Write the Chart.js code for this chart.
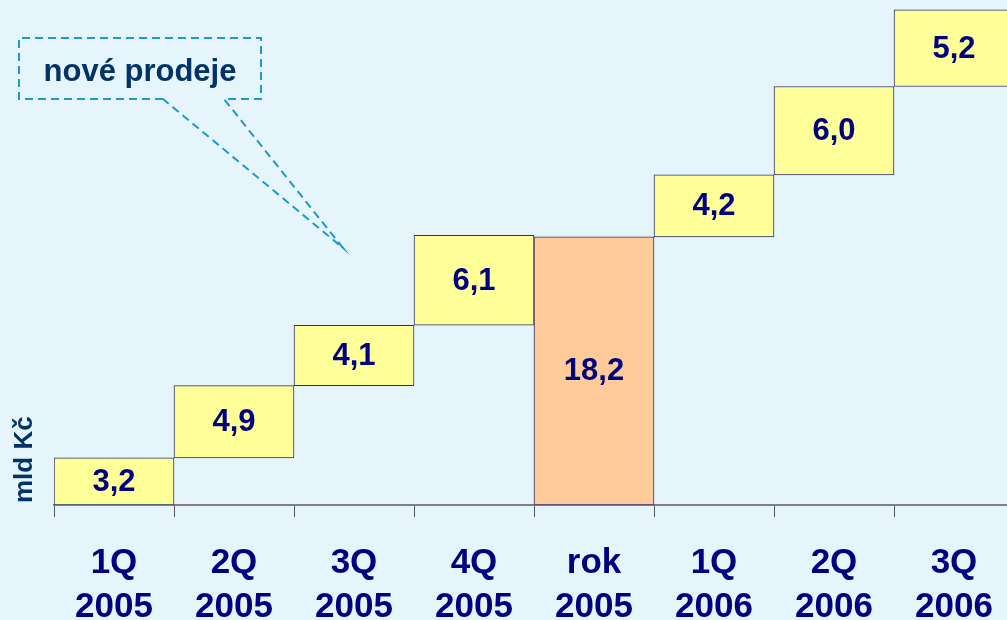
<!DOCTYPE html>
<html>
<head>
<meta charset="utf-8">
<script src="https://cdn.jsdelivr.net/npm/chart.js@4"></script>
<style>
  html, body { margin: 0; padding: 0; overflow: hidden; background: #E6F4FC; }
  #wrap { width: 1007px; height: 620px; overflow: hidden; }
</style>
</head>
<body>
<div id="wrap"><canvas id="sales" width="1020" height="620"></canvas></div>
<script>
// quarterly new sales (bn CZK) and the 2005 yearly total
const categories = [
  ['1Q', '2005'], ['2Q', '2005'], ['3Q', '2005'], ['4Q', '2005'],
  ['rok', '2005'], ['1Q', '2006'], ['2Q', '2006'], ['3Q', '2006']
];
const values = [3.2, 4.9, 4.1, 6.1, 18.2, 4.2, 6.0, 5.2];
const isTotal = [false, false, false, false, true, false, false, false];

// waterfall: each quarter starts where the previous one ended, the total starts at 0
const ranges = [];
let level = 0;
values.forEach((v, i) => {
  if (isTotal[i]) {
    ranges.push([0, v]);
    level = v;
  } else {
    ranges.push([level, level + v]);
    level += v;
  }
});

const navy = '#000080';

const valueLabels = {
  id: 'valueLabels',
  afterDatasetsDraw(chart) {
    const ctx = chart.ctx;
    const meta = chart.getDatasetMeta(0);
    ctx.save();
    ctx.font = 'bold 31px "Liberation Sans", Arial, sans-serif';
    ctx.fillStyle = navy;
    ctx.textAlign = 'center';
    ctx.textBaseline = 'middle';
    meta.data.forEach((bar, i) => {
      const y = (bar.y + bar.base) / 2;
      ctx.fillText(values[i].toFixed(1).replace('.', ','), bar.x, y + 1);
    });
    ctx.restore();
  }
};

const decorations = {
  id: 'decorations',
  afterDraw(chart) {
    const ctx = chart.ctx;
    ctx.save();
    // unit label
    ctx.translate(25, 503);
    ctx.rotate(-Math.PI / 2);
    ctx.font = 'bold 26px "Liberation Sans", Arial, sans-serif';
    ctx.fillStyle = '#003366';
    ctx.textAlign = 'left';
    ctx.textBaseline = 'middle';
    ctx.fillText('mld Kč', 0, 0);
    ctx.restore();

    // dashed callout
    ctx.save();
    ctx.strokeStyle = '#1A9BCB';
    ctx.lineWidth = 2;
    ctx.setLineDash([8, 5]);
    ctx.beginPath();
    ctx.moveTo(163, 99);
    ctx.lineTo(19, 99);
    ctx.lineTo(19, 38);
    ctx.lineTo(261, 38);
    ctx.lineTo(261, 99);
    ctx.lineTo(224, 99);
    ctx.lineTo(343, 248);
    ctx.lineTo(163, 99);
    ctx.stroke();
    ctx.setLineDash([]);
    ctx.font = 'bold 31px "Liberation Sans", Arial, sans-serif';
    ctx.fillStyle = '#003366';
    ctx.textAlign = 'center';
    ctx.textBaseline = 'middle';
    ctx.fillText('nové prodeje', 140, 72);
    ctx.restore();
  }
};

new Chart(document.getElementById('sales'), {
  type: 'bar',
  data: {
    labels: categories,
    datasets: [
      {
        data: ranges,
        backgroundColor: isTotal.map(t => t ? '#FFCC99' : '#FFFF99'),
        borderColor: '#2E2E6E',
        borderWidth: 1,
        borderSkipped: false,
        barPercentage: 1,
        categoryPercentage: 1
      }
    ]
  },
  options: {
    responsive: false,
    animation: false,
    layout: { padding: { left: 54, right: 6, top: 4, bottom: 0 } },
    plugins: { legend: { display: false }, tooltip: { enabled: false } },
    scales: {
      x: {
        afterFit(scale) { scale.height = 115; },
        border: { color: '#808080', width: 2 },
        grid: {
          offset: true,
          drawOnChartArea: false,
          drawTicks: true,
          tickLength: 12,
          color: '#555555'
        },
        ticks: {
          color: navy,
          padding: 24,
          maxRotation: 0,
          font: { family: '"Liberation Sans", Arial, sans-serif', size: 35, weight: 'bold', lineHeight: 1.26 }
        }
      },
      y: {
        display: false,
        min: 0,
        max: 34
      }
    }
  },
  plugins: [valueLabels, decorations]
});
</script>
</body>
</html>
